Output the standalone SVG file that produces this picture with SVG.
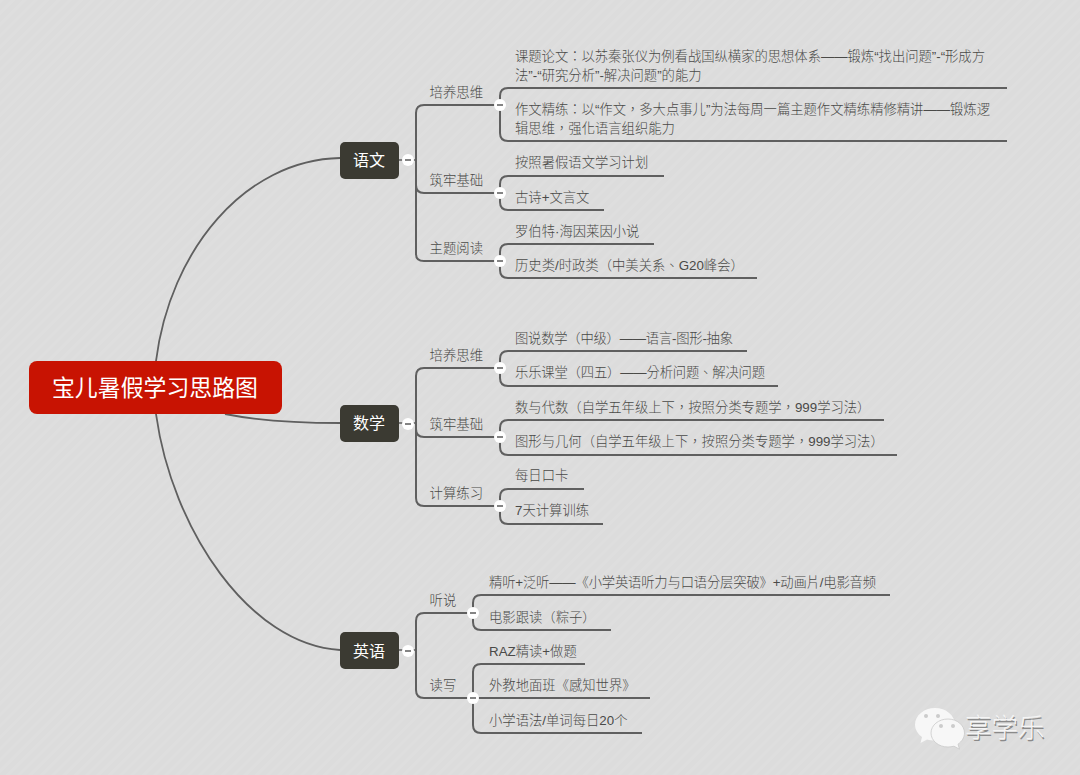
<svg xmlns="http://www.w3.org/2000/svg" width="1080" height="775" viewBox="0 0 1080 775">
<style>
text{font-family:"Liberation Sans","Noto Sans CJK TC",sans-serif}
.l{font-size:13.33px;fill:#4a4a48;font-weight:300}
.b{font-size:13.4px;fill:#4a4a48;font-weight:300}
.t{font-size:16px;fill:#fff;text-anchor:middle}
.c{fill:none;stroke:#5f5f5f;stroke-width:2}
.m{fill:none;stroke:#5f5f5f;stroke-width:1.8}
.s{fill:none;stroke:#5f5f5f;stroke-width:1.6}
.tp{fill:#3b3a32}
.dot{fill:#fff}
.dash{stroke:#666;stroke-width:1.6}
</style>
<defs>
<pattern id="bg" width="8" height="8" patternUnits="userSpaceOnUse" patternTransform="rotate(-45)">
<rect width="8" height="8" fill="#dcdcdc"/><rect width="8" height="3" fill="#dedede"/>
</pattern>
<g id="col"><circle r="6" class="dot"/><path d="M-3 0H3" class="dash"/></g>
</defs>
<rect width="1080" height="775" fill="url(#bg)"/>
<g id="connectors">
<path class="m" d="M156 361C170 250 245 160 340 158"/>
<path class="m" d="M156 414C172 530 250 645 340 650"/>
<path class="m" d="M225 414C260 421 300 423 340 423"/>
<path class="s" d="M399 160H416M399 423H416M399 650H416"/>
<path class="c" d="M497 105H424Q416 105 416 113V254Q416 261 424 261H497M416 185Q416 193 424 193H497"/>
<path class="c" d="M1007 88H508Q500 88 500 96V133Q500 141 508 141H1007"/>
<path class="c" d="M664 176H508Q500 176 500 184V202Q500 210 508 210H604"/>
<path class="c" d="M654 244H508Q500 244 500 252V270Q500 278 508 278H757"/>
<path class="c" d="M497 368H424Q416 368 416 376V498Q416 506 424 506H497M416 429Q416 437 424 437H497"/>
<path class="c" d="M747 351H508Q500 351 500 359V378Q500 386 508 386H778"/>
<path class="c" d="M884 420H508Q500 420 500 428V447Q500 455 508 455H897"/>
<path class="c" d="M584 489H508Q500 489 500 497V516Q500 524 508 524H603"/>
<path class="c" d="M470 613H424Q416 613 416 621V690Q416 698 424 698H650"/>
<path class="c" d="M890 595H481Q473 595 473 603V622Q473 630 481 630H611"/>
<path class="c" d="M585 664H481Q473 664 473 672V725Q473 733 481 733H642"/>
</g>
<g id="root"><rect x="29" y="361" width="253" height="53" rx="8" fill="#c81302"/><text x="155" y="396" font-size="22.9" fill="#fff" text-anchor="middle">宝儿暑假学习思路图</text></g>
<g id="yuwen"><rect class="tp" x="340" y="142" width="59" height="37" rx="5"/><text class="t" x="369" y="166">语文</text><use href="#col" x="408" y="160"/></g>
<g id="shuxue"><rect class="tp" x="340" y="405" width="59" height="37" rx="5"/><text class="t" x="369" y="429">数学</text><use href="#col" x="408" y="424"/></g>
<g id="yingyu"><rect class="tp" x="340" y="632" width="59" height="37" rx="5"/><text class="t" x="369" y="657">英语</text><use href="#col" x="408" y="651"/></g>
<g id="yw1"><text class="b" x="429.500" y="97">培养思维</text><use href="#col" x="500" y="105"/></g>
<g id="yw2"><text class="b" x="429.500" y="185">筑牢基础</text><use href="#col" x="500" y="193"/></g>
<g id="yw3"><text class="b" x="429.500" y="253">主题阅读</text><use href="#col" x="500" y="261"/></g>
<g id="yw-leaves">
<text class="l" x="515" y="61" textLength="470">课题论文：以苏秦张仪为例看战国纵横家的思想体系——锻炼“找出问题”-“形成方</text>
<text class="l" x="515" y="80">法”-“研究分析”-解决问题”的能力</text>
<text class="l" x="515" y="114" textLength="475">作文精练：以“作文，多大点事儿”为法每周一篇主题作文精练精修精讲——锻炼逻</text>
<text class="l" x="515" y="133">辑思维，强化语言组织能力</text>
<text class="l" x="515" y="167">按照暑假语文学习计划</text>
<text class="l" x="515" y="202">古诗+文言文</text>
<text class="l" x="515" y="236">罗伯特·海因莱因小说</text>
<text class="l" x="515" y="270">历史类/时政类（中美关系、G20峰会）</text>
</g>
<g id="sx1"><text class="b" x="429.500" y="360">培养思维</text><use href="#col" x="500" y="368"/></g>
<g id="sx2"><text class="b" x="429.500" y="429">筑牢基础</text><use href="#col" x="500" y="437"/></g>
<g id="sx3"><text class="b" x="429.500" y="498">计算练习</text><use href="#col" x="500" y="506"/></g>
<g id="sx-leaves">
<text class="l" x="515" y="343" textLength="218">图说数学（中级）——语言-图形-抽象</text>
<text class="l" x="515" y="377" textLength="250">乐乐课堂（四五）——分析问题、解决问题</text>
<text class="l" x="515" y="412">数与代数（自学五年级上下，按照分类专题学，999学习法）</text>
<text class="l" x="515" y="446">图形与几何（自学五年级上下，按照分类专题学，999学习法）</text>
<text class="l" x="515" y="480">每日口卡</text>
<text class="l" x="515" y="515">7天计算训练</text>
</g>
<g id="yy1"><text class="b" x="429.500" y="605">听说</text><use href="#col" x="473" y="613"/></g>
<g id="yy2"><text class="b" x="429.500" y="690">读写</text><use href="#col" x="473" y="698"/></g>
<g id="yy-leaves">
<text class="l" x="489" y="587" textLength="387">精听+泛听——《小学英语听力与口语分层突破》+动画片/电影音频</text>
<text class="l" x="489" y="622">电影跟读（粽子）</text>
<text class="l" x="489" y="656">RAZ精读+做题</text>
<text class="l" x="489" y="690">外教地面班《感知世界》</text>
<text class="l" x="489" y="725">小学语法/单词每日20个</text>
</g>
<g id="watermark">
<path d="M935 708c-11 0-20 7.500-20 16.500 0 5 2.800 9.500 7 12.500l-1.500 6 6.500-3.500c2.500.7 5 1 8 1 11 0 20-7 20-16s-9-16.500-20-16.500z" fill="#f7f7f7"/>
<path d="M948 719c-9.500 0-17 6.300-17 14s7.500 14 17 14c2 0 4-.3 6-.8l5.500 3-1.500-5c3.800-2.700 6.500-6.700 6.500-11.200 0-7.700-7.500-14-16.500-14z" fill="#f7f7f7" stroke="#c9c9c9" stroke-width=".8"/>
<circle cx="926" cy="716" r="2" fill="#ccc"/><circle cx="938" cy="716" r="2" fill="#ccc"/><circle cx="941" cy="726" r="2" fill="#ccc"/><circle cx="953" cy="726" r="2" fill="#ccc"/>
<text x="965" y="737" font-size="26.500" fill="#8a8a8a" font-weight="300" transform="translate(1 1.500)">享学乐</text>
<text x="965" y="737" font-size="26.500" fill="#f5f5f5" font-weight="300">享学乐</text>
</g>
</svg>
